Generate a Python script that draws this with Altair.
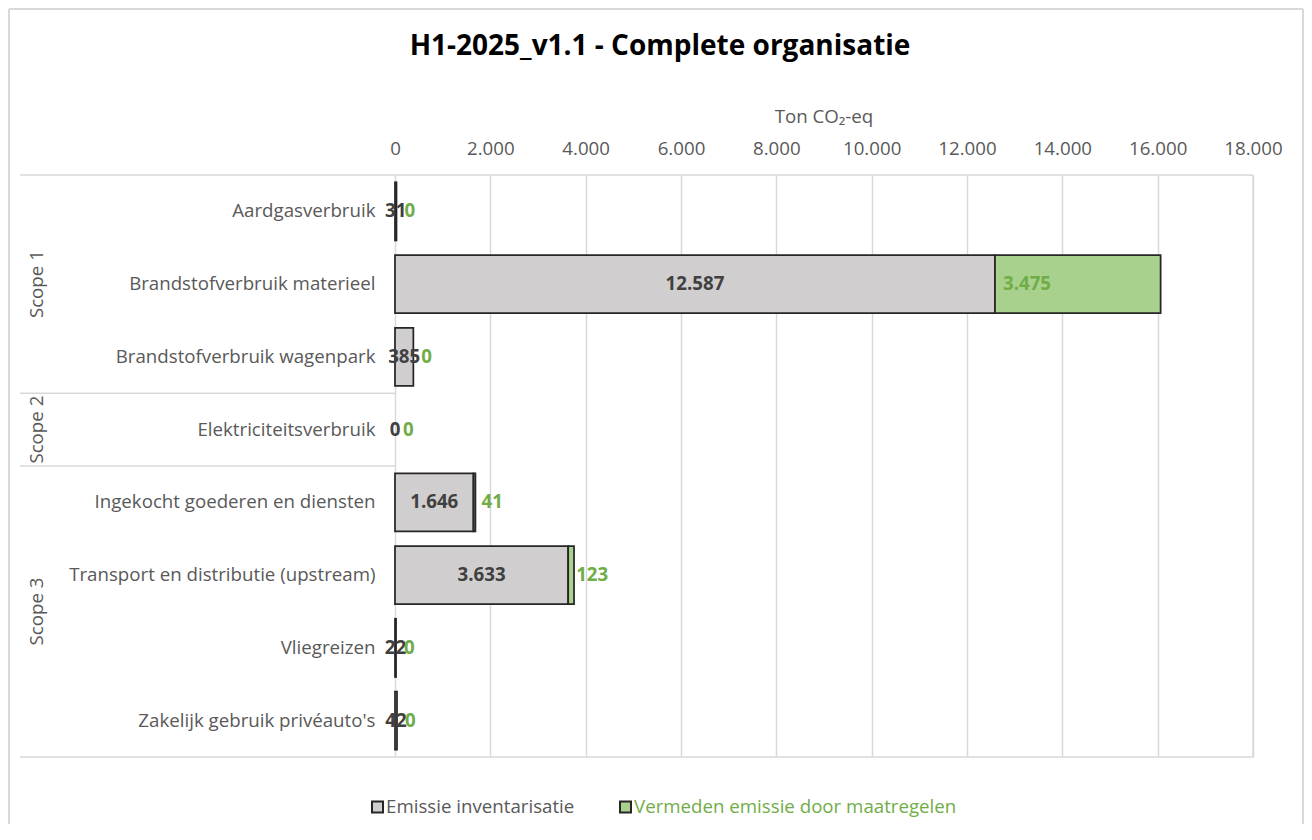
import altair as alt
import pandas as pd

title_text = "H1-2025_v1.1 - Complete organisatie"
axis_title = "Ton CO₂-eq"
categories = [
    "Aardgasverbruik",
    "Brandstofverbruik materieel",
    "Brandstofverbruik wagenpark",
    "Elektriciteitsverbruik",
    "Ingekocht goederen en diensten",
    "Transport en distributie (upstream)",
    "Vliegreizen",
    "Zakelijk gebruik privéauto's",
]
scopes = ["Scope 1", "Scope 1", "Scope 1", "Scope 2", "Scope 3", "Scope 3", "Scope 3", "Scope 3"]
emissie = [31, 12587, 385, 0, 1646, 3633, 22, 42]
vermeden = [0, 3475, 0, 0, 41, 123, 0, 0]
series = ["Emissie inventarisatie", "Vermeden emissie door maatregelen"]
x_ticks = [0, 2000, 4000, 6000, 8000, 10000, 12000, 14000, 16000, 18000]

FONT = "Open Sans"
FS = 18.7
GRAY_TXT = "#595959"
DARK_TXT = "#404040"
GREEN_TXT = "#70AD47"
GRID = "#D9D9D9"
FILL = ["#D0CECE", "#A9D18E"]
EDGE = "#262626"

W, H = 858, 582
PAD_L, PAD_T, PAD_R, PAD_B = 387, 167, 51, 67
STEP = H / len(categories)


def nl(v):
    return f"{v:,}".replace(",", ".")


rows = []
for c, e, v in zip(categories, emissie, vermeden):
    rows.append({"cat": c, "serie": series[0], "start": 0, "end": e, "val": e})
    rows.append({"cat": c, "serie": series[1], "start": e, "end": e + v, "val": v})
bars = pd.DataFrame(rows)
bars_nz = bars[bars["val"] > 0]

lab = pd.DataFrame({
    "cat": categories,
    "emid": [e / 2 for e in emissie],
    "estart": emissie,
    "etxt": [nl(e) for e in emissie],
    "vtxt": [nl(v) for v in vermeden],
})

xscale = alt.Scale(domain=[0, 18000], nice=False, zero=True)
yscale = alt.Scale(domain=categories, paddingInner=0.2, paddingOuter=0.1)

one = pd.DataFrame({"k": [0]})

bar_layer = alt.Chart(bars_nz).mark_bar(stroke=EDGE, strokeWidth=1.75, cornerRadius=0).encode(
    x=alt.X("start:Q", scale=xscale,
            axis=alt.Axis(orient="top", values=x_ticks, grid=True, gridColor=GRID, gridWidth=1.5,
                          domain=False, ticks=False, labelFont=FONT, labelFontSize=FS,
                          labelColor=GRAY_TXT, labelPadding=17, labelFlush=False,
                          labelOverlap=False,
                          labelExpr="replace(format(datum.value, ',d'), ',', '.')", title=None)),
    x2="end:Q",
    y=alt.Y("cat:N", scale=yscale, sort=categories,
            axis=alt.Axis(domain=False, ticks=False, grid=False, labelFont=FONT, labelFontSize=FS,
                          labelColor=GRAY_TXT, labelPadding=20, labelLimit=500, title=None)),
    color=alt.Color("serie:N", scale=alt.Scale(domain=series, range=FILL), legend=None),
)

etext = alt.Chart(lab).mark_text(font=FONT, fontSize=FS, fontWeight="bold", color=DARK_TXT,
                                  align="center", baseline="middle").encode(
    x=alt.X("emid:Q", scale=xscale), y=alt.Y("cat:N", scale=yscale, sort=categories), text="etxt:N")
vtext = alt.Chart(lab).mark_text(font=FONT, fontSize=FS, fontWeight="bold", color=GREEN_TXT,
                                  align="left", baseline="middle", dx=8).encode(
    x=alt.X("estart:Q", scale=xscale), y=alt.Y("cat:N", scale=yscale, sort=categories), text="vtxt:N")


def hrule(x1, x2, y, color=GRID, w=1.5):
    return alt.Chart(one).mark_rule(color=color, strokeWidth=w).encode(
        x=alt.value(x1), x2=alt.value(x2), y=alt.value(y))


def vrule(x, y1, y2, color=GRID, w=1.5):
    return alt.Chart(one).mark_rule(color=color, strokeWidth=w).encode(
        x=alt.value(x), y=alt.value(y1), y2=alt.value(y2))


# group boundaries derived from scope counts
bounds = [0]
scope_centers = []
names = []
for s in dict.fromkeys(scopes):
    n = scopes.count(s)
    scope_centers.append((bounds[-1] + n / 2) * STEP)
    bounds.append(bounds[-1] + n)
    names.append(s)

fr_l = -PAD_L + 1
fr_r = W + PAD_R - 1
fr_t = -PAD_T + 1
fr_b = H + PAD_B + 20
deco = [
    # outer frame
    hrule(fr_l, fr_r, fr_t, GRID, 2),
    vrule(fr_l, fr_t, fr_b, GRID, 2),
    vrule(fr_r, fr_t, fr_b, GRID, 2),
    # plot border
    hrule(-375, W, 0),
    hrule(-375, W, H),
    vrule(W, 0, H),
]
for b in bounds[1:-1]:
    deco.append(hrule(-375, 0, b * STEP))

scope_layers = []
for name, cy in zip(names, scope_centers):
    scope_layers.append(
        alt.Chart(pd.DataFrame({"t": [name]})).mark_text(
            font=FONT, fontSize=FS, color=GRAY_TXT, angle=270, align="center", baseline="middle"
        ).encode(text="t:N", x=alt.value(-358), y=alt.value(cy))
    )

title_layer = alt.Chart(pd.DataFrame({"t": [title_text]})).mark_text(
    font=FONT, fontSize=28, fontWeight="bold", color="#000000", align="center", baseline="middle"
).encode(text="t:N", x=alt.value(265), y=alt.value(-128))

axis_title_layer = alt.Chart(pd.DataFrame({"t": [axis_title]})).mark_text(
    font=FONT, fontSize=FS, color=GRAY_TXT, align="center", baseline="middle"
).encode(text="t:N", x=alt.value(W / 2), y=alt.value(-58))

leg_y = 632
legend_layers = [
    alt.Chart(one).mark_rect(fill=FILL[0], stroke=EDGE, strokeWidth=2).encode(
        x=alt.value(-23), x2=alt.value(-12), y=alt.value(leg_y - 5.5), y2=alt.value(leg_y + 5.5)),
    alt.Chart(pd.DataFrame({"t": [series[0]]})).mark_text(
        font=FONT, fontSize=FS, color=GRAY_TXT, align="left", baseline="middle").encode(
        text="t:N", x=alt.value(-9), y=alt.value(leg_y)),
    alt.Chart(one).mark_rect(fill=FILL[1], stroke=EDGE, strokeWidth=2).encode(
        x=alt.value(225), x2=alt.value(236), y=alt.value(leg_y - 5.5), y2=alt.value(leg_y + 5.5)),
    alt.Chart(pd.DataFrame({"t": [series[1]]})).mark_text(
        font=FONT, fontSize=FS, color=GREEN_TXT, align="left", baseline="middle").encode(
        text="t:N", x=alt.value(239), y=alt.value(leg_y)),
]

chart = alt.layer(
    *deco, bar_layer, etext, vtext, *scope_layers, title_layer, axis_title_layer, *legend_layers
).properties(
    width=W, height=H,
    padding={"left": PAD_L, "top": PAD_T, "right": PAD_R, "bottom": PAD_B},
    autosize=alt.AutoSizeParams(type="none"),
    background="white",
).configure_view(stroke=None).resolve_scale(x="shared", y="shared")

chart.save("out.html", embed_options={"renderer": "svg", "actions": False})
